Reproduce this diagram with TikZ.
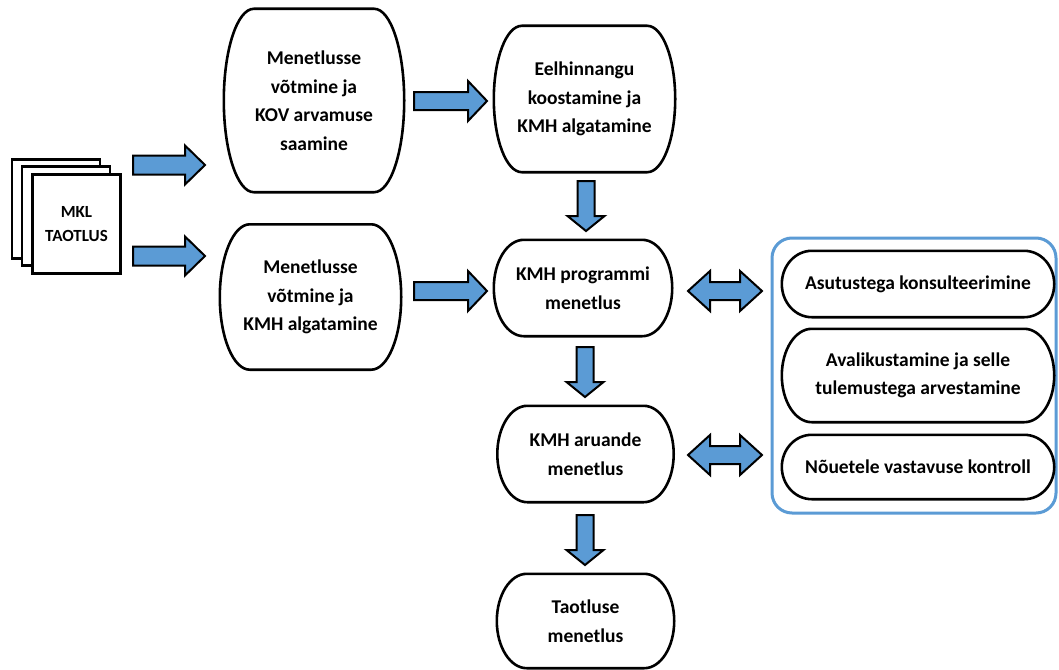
\documentclass[tikz,border=0pt]{standalone}
\usepackage{fontspec}
\setmainfont{Carlito}
\usetikzlibrary{calc}
\definecolor{ablue}{HTML}{5B9BD5}
\tikzset{
  outl/.style={line width=2.6pt},
  boxtext/.style={inner sep=0pt, align=center, font=\bfseries\fontsize{19.5}{28.5}\selectfont},
  barrow/.style={fill=ablue, draw=black, line width=2pt, line join=miter},
  sheet/.style={draw, line width=2.5pt, fill=white, minimum width=88pt, minimum height=99pt, inner sep=0pt},
  grpbox/.style={draw=ablue, line width=3pt, rounded corners=20pt, inner sep=0pt},
}
% outline with elliptical corners (rx horizontal, half height vertical)
\newcommand\roundoutline[2]{%
  \draw[outl] let \p1=(#1.north west), \p2=(#1.south east), \n1={(\y1-\y2)/2} in
    (\x1+#2,\y1) -- (\x2-#2,\y1)
    arc[start angle=90,end angle=0,x radius=#2,y radius=\n1]
    arc[start angle=0,end angle=-90,x radius=#2,y radius=\n1]
    -- (\x1+#2,\y2)
    arc[start angle=270,end angle=180,x radius=#2,y radius=\n1]
    arc[start angle=180,end angle=90,x radius=#2,y radius=\n1] -- cycle;}
% right block arrow: tail, tip, shaft half, head half, head length
\newcommand\rightblock[5]{%
  \draw[barrow] let \p1=(#1), \p2=(#2) in
    (\x1,\y1+#3) -- (\x2-#5,\y1+#3) -- (\x2-#5,\y1+#4) -- (\x2,\y1)
    -- (\x2-#5,\y1-#4) -- (\x2-#5,\y1-#3) -- (\x1,\y1-#3) -- cycle;}
% down block arrow
\newcommand\downblock[5]{%
  \draw[barrow] let \p1=(#1), \p2=(#2) in
    (\x1-#3,\y1) -- (\x1-#3,\y2+#5) -- (\x1-#4,\y2+#5) -- (\x1,\y2)
    -- (\x1+#4,\y2+#5) -- (\x1+#3,\y2+#5) -- (\x1+#3,\y1) -- cycle;}
% double horizontal block arrow
\newcommand\doubleblock[5]{%
  \draw[barrow] let \p1=(#1), \p2=(#2) in
    (\x1,\y1) -- (\x1+#5,\y1+#4) -- (\x1+#5,\y1+#3) -- (\x2-#5,\y1+#3)
    -- (\x2-#5,\y1+#4) -- (\x2,\y1) -- (\x2-#5,\y1-#4) -- (\x2-#5,\y1-#3)
    -- (\x1+#5,\y1-#3) -- (\x1+#5,\y1-#4) -- cycle;}
\begin{document}
\begin{tikzpicture}[x=1pt,y=-1pt]
\useasboundingbox (0,0) rectangle (1059,669);
\fill[white] (0,0) rectangle (1059,669);

% document stack
\node[sheet] (s1) at (56,209) {};
\node[sheet] (s2) at (66,216) {};
\node[sheet, font=\bfseries\fontsize{17}{24}\selectfont, align=center] (mkl) at (76.5,224) {MKL\\TAOTLUS};

% process nodes
\node[boxtext, minimum width=180pt, minimum height=183pt] (A) at (314,100.5) {Menetlusse\\võtmine ja\\KOV arvamuse\\saamine};
\node[boxtext, minimum width=181pt, minimum height=145pt] (D) at (310.5,297) {Menetlusse\\võtmine ja\\KMH algatamine};
\node[boxtext, minimum width=181pt, minimum height=146pt] (B) at (584.5,99) {Eelhinnangu\\koostamine ja\\KMH algatamine};
\node[boxtext, minimum width=178pt, minimum height=96pt] (C) at (583,288) {KMH programmi\\menetlus};
\node[boxtext, minimum width=176pt, minimum height=96pt] (R) at (585.5,454) {KMH aruande\\menetlus};
\node[boxtext, minimum width=177pt, minimum height=94pt] (T) at (585.5,621) {Taotluse\\menetlus};

\roundoutline{A}{30pt}
\roundoutline{D}{30pt}
\roundoutline{B}{28pt}
\roundoutline{C}{30pt}
\roundoutline{R}{30pt}
\roundoutline{T}{30pt}

% group
\node[grpbox, minimum width=284pt, minimum height=275pt] (G) at (914,375.5) {};
\node[boxtext, minimum width=272pt, minimum height=66pt] (E1) at (918,284) {Asutustega konsulteerimine};
\node[boxtext, minimum width=272pt, minimum height=93pt] (E2) at (918,375.5) {Avalikustamine ja selle\\tulemustega arvestamine};
\node[boxtext, minimum width=272pt, minimum height=64pt] (E3) at (918,467) {Nõuetele vastavuse kontroll};
\roundoutline{E1}{30pt}
\roundoutline{E2}{30pt}
\roundoutline{E3}{30pt}

% arrow end points
\coordinate (m1) at (133,165);  \coordinate (a1) at (205,165);
\coordinate (m2) at (133,256);  \coordinate (d1) at (205,256);
\coordinate (a2) at (414,101);  \coordinate (b1) at (487,101);
\coordinate (d2) at (414,291);  \coordinate (c1) at (487,291);
\coordinate (b2) at (586,181);  \coordinate (c2) at (586,231);
\coordinate (c3) at (585,347);  \coordinate (r1) at (585,397);
\coordinate (r2) at (585,515);  \coordinate (t1) at (585,565);
\coordinate (c4) at (688,291);  \coordinate (g1) at (762,291);
\coordinate (r3) at (688,455);  \coordinate (g2) at (762,455);

\rightblock{m1}{a1}{9.5pt}{19.5pt}{20pt}
\rightblock{m2}{d1}{9.5pt}{19.5pt}{20pt}
\rightblock{a2}{b1}{9pt}{20pt}{19pt}
\rightblock{d2}{c1}{9pt}{20pt}{19pt}
\downblock{b2}{c2}{8.5pt}{18.5pt}{15pt}
\downblock{c3}{r1}{8.5pt}{18.5pt}{15pt}
\downblock{r2}{t1}{8.5pt}{18.5pt}{15pt}
\doubleblock{c4}{g1}{9pt}{20pt}{22pt}
\doubleblock{r3}{g2}{9pt}{20pt}{22pt}
\end{tikzpicture}
\end{document}
